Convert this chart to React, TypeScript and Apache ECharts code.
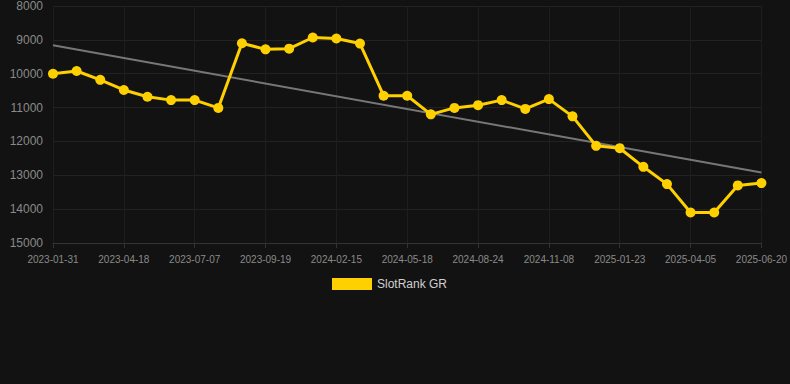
import React, { useEffect, useRef } from "react";
import * as echarts from "echarts";

const categories: string[] = [
  "2023-01-31", "2023-02-25", "2023-03-23", "2023-04-18", "2023-05-14", "2023-06-10",
  "2023-07-07", "2023-07-31", "2023-08-25", "2023-09-19", "2023-11-05", "2023-12-29",
  "2024-02-15", "2024-03-19", "2024-04-18", "2024-05-18", "2024-06-19", "2024-07-22",
  "2024-08-24", "2024-09-18", "2024-10-13", "2024-11-08", "2024-12-04", "2024-12-29",
  "2025-01-23", "2025-02-15", "2025-03-12", "2025-04-05", "2025-04-30", "2025-05-26",
  "2025-06-20",
];

const rankValues: number[] = [
  10000, 9920, 10180, 10480, 10680, 10780, 10780, 11010, 9100, 9280, 9260, 8930,
  8960, 9110, 10650, 10650, 11200, 11010, 10930, 10780, 11040, 10750, 11260, 12130,
  12200, 12750, 13260, 14100, 14100, 13300, 13230,
];

const trendStart = 9160;
const trendEnd = 12920;

const yTicks = { min: 8000, max: 15000, interval: 1000 };

const FONT = "Arial, 'Liberation Sans', sans-serif";

export default function App() {
  const ref = useRef<HTMLDivElement>(null);
  useEffect(() => {
    if (!ref.current) return;
    const chart = echarts.init(ref.current, undefined, { renderer: "svg" });
    const trendData = categories.map((_, i) =>
      i === 0 ? trendStart : i === categories.length - 1 ? trendEnd : null
    );
    chart.setOption({
      animation: false,
      backgroundColor: "#121212",
      grid: { left: 53, right: 28, top: 6, bottom: 141 },
      legend: {
        data: [{ name: "SlotRank GR", icon: "rect" }],
        top: 278,
        left: 332,
        padding: 0,
        itemWidth: 40,
        itemHeight: 12,
        itemGap: 10,
        textStyle: { color: "#d0d0d0", fontSize: 12, fontFamily: FONT },
      },
      xAxis: {
        type: "category",
        data: categories,
        boundaryGap: false,
        axisLine: { lineStyle: { color: "#333" } },
        axisTick: { show: true, alignWithLabel: true, interval: 2, lineStyle: { color: "#333" } },
        axisLabel: {
          interval: 2,
          color: "#8a8a8a",
          fontSize: 10,
          margin: 11,
          fontFamily: FONT,
        },
        splitLine: { show: true, interval: 2, lineStyle: { color: "#1e1e1e" } },
      },
      yAxis: {
        type: "value",
        inverse: true,
        min: yTicks.min,
        max: yTicks.max,
        interval: yTicks.interval,
        axisLine: { show: false },
        axisTick: { show: false },
        axisLabel: {
          color: "#8a8a8a",
          fontSize: 12,
          margin: 10,
          fontFamily: FONT,
          formatter: (v: number) => String(v),
        },
        splitLine: { lineStyle: { color: "#222" } },
      },
      series: [
        {
          name: "Trend",
          type: "line",
          data: trendData,
          connectNulls: true,
          showSymbol: false,
          symbol: "none",
          lineStyle: { color: "#777", width: 2 },
          itemStyle: { color: "#777" },
          z: 1,
        },
        {
          name: "SlotRank GR",
          type: "line",
          data: rankValues,
          symbol: "circle",
          symbolSize: 10,
          lineStyle: { color: "#ffd000", width: 3 },
          itemStyle: { color: "#ffd000" },
          z: 2,
        },
      ],
    });
    return () => chart.dispose();
  }, []);
  return (
    <div
      ref={ref}
      style={{ position: "absolute", left: 0, top: 0, width: 790, height: 384 }}
    />
  );
}
